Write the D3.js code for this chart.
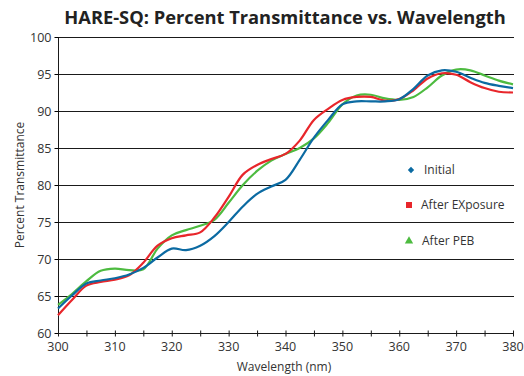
<!DOCTYPE html>
<html>
<head>
<meta charset="utf-8">
<script src="https://cdn.jsdelivr.net/npm/d3@7"></script>
<style>
  body { margin: 0; background: #fff; }
  svg { font-family: "Open Sans", sans-serif; }
</style>
</head>
<body>
<script>
// data
var wavelengths = [300, 302.5, 305, 307.5, 310, 312.5, 315, 317.5, 320, 322.5, 325, 327.5, 330, 332.5, 335, 337.5, 340,
                   342.5, 345, 347.5, 350, 352.5, 355, 357.5, 360, 362.5, 365, 367.5, 370, 372.5, 375, 377.5, 380];
var initial = [63.3, 65.1, 66.7, 67.1, 67.4, 67.9, 68.8, 70.2, 71.4, 71.2, 71.8, 73.1, 75.0, 77.1, 78.8, 79.8, 80.7,
               83.4, 86.4, 88.8, 90.9, 91.3, 91.3, 91.3, 91.6, 93.0, 94.8, 95.5, 95.3, 94.5, 93.8, 93.4, 93.1];
var afterExposure = [62.4, 64.5, 66.4, 66.9, 67.2, 67.8, 69.5, 71.8, 72.8, 73.2, 73.6, 75.6, 78.4, 81.4, 82.7, 83.5, 84.2,
                     86.0, 88.8, 90.3, 91.5, 91.9, 91.9, 91.4, 91.6, 92.8, 94.4, 95.1, 94.9, 93.9, 93.1, 92.6, 92.5];
var afterPEB = [63.8, 65.3, 67.0, 68.4, 68.7, 68.5, 68.6, 71.4, 73.2, 73.9, 74.5, 75.3, 77.6, 80.0, 81.9, 83.3, 84.2,
                85.0, 86.3, 88.4, 90.9, 92.1, 92.2, 91.7, 91.5, 91.9, 93.2, 94.8, 95.6, 95.5, 94.8, 94.1, 93.6];
var seriesNames = ["Initial", "After EXposure", "After PEB"];
var seriesColors = ["#0b6aa2", "#e8262b", "#4dbb40"];
var yTicks = [60, 65, 70, 75, 80, 85, 90, 95, 100];
var xTicks = [300, 310, 320, 330, 340, 350, 360, 370, 380];

window.onload = function() {
  var w = 524, h = 376;
  var left = 58, right = 513, top = 37, bottom = 333;

  var svg = d3.select("body").append("svg")
    .attr("width", w)
    .attr("height", h);

  var scaleX = d3.scaleLinear().domain([300, 380]).range([left, right]);
  var scaleY = d3.scaleLinear().domain([60, 100]).range([bottom, top]);

  // title
  svg.append("text")
    .attr("x", 285).attr("y", 24)
    .attr("text-anchor", "middle")
    .style("font-size", "18.3px").style("font-weight", "bold").style("fill", "#222")
    .text("HARE-SQ: Percent Transmittance vs. Wavelength");

  // horizontal gridlines
  svg.append("g").selectAll("line")
    .data(yTicks.slice(1))
    .enter().append("line")
    .attr("x1", left).attr("x2", right + 1)
    .attr("y1", function(d) { return scaleY(d) + 0.5; })
    .attr("y2", function(d) { return scaleY(d) + 0.5; })
    .attr("stroke", "#1a1a1a").attr("stroke-width", 1.1);

  // y axis
  var yAxis = d3.axisLeft(scaleY).tickValues(yTicks).tickSize(4).tickPadding(3);
  var gy = svg.append("g")
    .attr("transform", "translate(" + (left + 0.5) + ",0)")
    .call(yAxis);
  gy.select(".domain").attr("stroke", "#1a1a1a").attr("d", "M0," + top + "V" + bottom);
  gy.selectAll("text").style("font-size", "12.5px").style("fill", "#333").style("font-family", "Open Sans, sans-serif");

  // x axis with minor ticks every 5 nm
  var minor = d3.range(300, 381, 5);
  var gx = svg.append("g").attr("transform", "translate(0," + (bottom + 0.5) + ")");
  gx.append("line").attr("x1", left).attr("x2", right + 1).attr("stroke", "#1a1a1a");
  gx.selectAll(".tk").data(minor).enter().append("line")
    .attr("x1", function(d) { return scaleX(d) + 0.5; })
    .attr("x2", function(d) { return scaleX(d) + 0.5; })
    .attr("y1", -3).attr("y2", 3)
    .attr("stroke", "#1a1a1a");
  gx.selectAll(".lb").data(xTicks).enter().append("text")
    .attr("x", function(d) { return scaleX(d); })
    .attr("y", 17)
    .attr("text-anchor", "middle")
    .style("font-size", "12.5px").style("fill", "#333")
    .text(function(d) { return d; });

  // axis labels
  svg.append("text")
    .attr("x", 284).attr("y", 371)
    .attr("text-anchor", "middle")
    .style("font-size", "12px").style("fill", "#333")
    .text("Wavelength (nm)");
  svg.append("text")
    .attr("transform", "translate(24," + ((top + bottom) / 2) + ") rotate(-90)")
    .attr("text-anchor", "middle")
    .style("font-size", "12px").style("fill", "#333")
    .text("Percent Transmittance");

  // lines
  var allSeries = [initial, afterExposure, afterPEB];
  var line = d3.line()
    .x(function(d, i) { return scaleX(wavelengths[i]); })
    .y(function(d) { return scaleY(d); })
    .curve(d3.curveCatmullRom.alpha(0.5));

  // draw blue on top like the reference
  [2, 1, 0].forEach(function(k) {
    svg.append("path")
      .attr("d", line(allSeries[k]))
      .attr("fill", "none")
      .attr("stroke", seriesColors[k])
      .attr("stroke-width", 2.2)
      .attr("stroke-linejoin", "round");
  });

  // legend
  var legY = [170, 205, 241];
  var legX = 410;
  var sym = [d3.symbolSquare, d3.symbolSquare, d3.symbolTriangle];
  var symSize = [20, 36, 30];
  var rot = [45, 0, 0];
  var textX = [424, 421, 422];
  seriesNames.forEach(function(name, k) {
    svg.append("path")
      .attr("transform", "translate(" + (k == 0 ? legX + 1 : legX - 1) + "," + legY[k] + ") rotate(" + rot[k] + ")")
      .attr("d", d3.symbol().type(sym[k]).size(symSize[k]))
      .attr("fill", seriesColors[k]);
    svg.append("text")
      .attr("x", textX[k]).attr("y", legY[k] + 4)
      .style("font-size", "12px").style("fill", "#333")
      .text(name);
  });
};
</script>
</body>
</html>
